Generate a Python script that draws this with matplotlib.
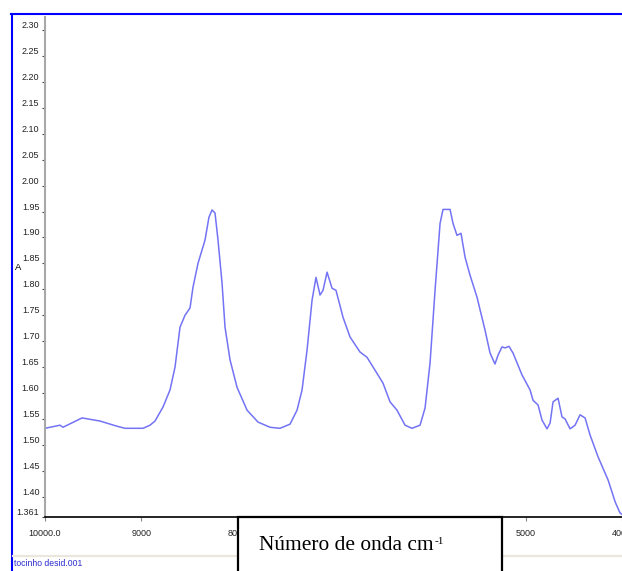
import matplotlib.pyplot as plt
from matplotlib.patches import Rectangle
from matplotlib.lines import Line2D
from matplotlib.text import Annotation

SANS = ["Liberation Sans Narrow", "Liberation Sans", "DejaVu Sans"]

# NIR spectrum (wavenumber in cm-1, absorbance)
wavenumber = [10000, 9844, 9813, 9615, 9428, 9251, 9168, 8981, 8908, 8856,
              8773, 8700, 8648, 8596, 8544, 8492, 8461, 8409, 8336, 8295,
              8263, 8232, 8201, 8159, 8128, 8076, 8003, 7899, 7785, 7660,
              7556, 7452, 7379, 7327, 7275, 7223, 7182, 7140, 7109, 7067,
              7015, 6974, 6901, 6828, 6724, 6652, 6548, 6485, 6412, 6340,
              6256, 6184, 6100, 6048, 5996, 5944, 5892, 5861, 5788, 5757,
              5716, 5674, 5632, 5580, 5508, 5424, 5372, 5321, 5289, 5248,
              5217, 5175, 5133, 5040, 4956, 4925, 4873, 4832, 4780, 4748,
              4717, 4665, 4624, 4592, 4540, 4488, 4436, 4384, 4332, 4249,
              4144, 4071, 4021, 4000]
absorbance = [1.532, 1.538, 1.534, 1.552, 1.546, 1.536, 1.532, 1.532, 1.538, 1.546,
              1.573, 1.606, 1.650, 1.727, 1.750, 1.764, 1.804, 1.850, 1.895, 1.939,
              1.953, 1.947, 1.895, 1.812, 1.727, 1.664, 1.611, 1.567, 1.544, 1.534,
              1.532, 1.540, 1.567, 1.606, 1.683, 1.779, 1.823, 1.789, 1.798, 1.833,
              1.802, 1.798, 1.746, 1.708, 1.679, 1.669, 1.638, 1.619, 1.583, 1.567,
              1.538, 1.532, 1.538, 1.571, 1.658, 1.798, 1.927, 1.954, 1.954, 1.927,
              1.904, 1.908, 1.862, 1.827, 1.785, 1.721, 1.677, 1.656, 1.673, 1.689,
              1.687, 1.690, 1.677, 1.635, 1.606, 1.586, 1.577, 1.548, 1.531, 1.542,
              1.583, 1.590, 1.554, 1.550, 1.531, 1.538, 1.558, 1.552, 1.519, 1.477,
              1.432, 1.390, 1.369, 1.366]

yticks = [1.361, 1.40, 1.45, 1.50, 1.55, 1.60, 1.65, 1.70, 1.75, 1.80, 1.85,
          1.90, 1.95, 2.00, 2.05, 2.10, 2.15, 2.20, 2.25, 2.30]
ytick_labels = ["1.361"] + ["%.2f" % v for v in yticks[1:]]
xticks = [10000, 9000, 8000, 7000, 6000, 5000, 4000]
# 7000 and 6000 sit behind the title box
xtick_labels = ["10000.0", "9000", "8000", "", "", "5000", "4000"]

W, H = 622, 571
fig = plt.figure(figsize=(W / 100, H / 100), dpi=100)
ax = fig.add_axes([45 / W, (H - 517) / H, (W - 45) / W, 500 / H])

ax.plot(wavenumber, absorbance, color="#7373f5", lw=1.1)
ax.set_xlim(10000, 4000)
ax.set_ylim(1.361, 2.325)

ax.set_yticks(yticks)
ax.set_yticklabels(ytick_labels, family=SANS, fontsize=6.5, color="#222222")
ax.set_xticks(xticks)
ax.set_xticklabels(xtick_labels, family=SANS, fontsize=6.5, color="#222222")
for t in ax.get_yticklabels():
    t.set_verticalalignment("bottom")
ax.tick_params(axis="y", length=2, width=0.8, pad=2, color="#444444")
ax.tick_params(axis="x", length=3, width=0.8, pad=6, color="#888888")

for side in ("top", "right"):
    ax.spines[side].set_visible(False)
ax.spines["left"].set_color("#a8a8a8")
ax.spines["left"].set_linewidth(1.5)
ax.spines["bottom"].set_color("black")
ax.spines["bottom"].set_linewidth(1.2)

fig.text(15 / W, 1 - 268 / H, "A", family=SANS, fontsize=6.8, va="center", ha="left")

# window frame and status bar
fig.add_artist(Line2D([11.5 / W, 11.5 / W], [0, 1 - 14 / H], color="#0000ff", lw=1.5))
fig.add_artist(Line2D([11 / W, 1], [1 - 14 / H, 1 - 14 / H], color="#0000ff", lw=1.5))
fig.add_artist(Line2D([13 / W, 1], [1 - 556 / H, 1 - 556 / H], color="#ebe7dc", lw=1.6))
fig.text(14 / W, 1 - 564 / H, "tocinho desid.001", family=SANS, fontsize=6.2,
         color="#2a2ad0", va="center", ha="left")

# axis title box
fig.add_artist(Rectangle((238 / W, -0.02), (502 - 238) / W, (H - 517) / H + 0.02,
                         facecolor="white", edgecolor="black", lw=1.6, zorder=10))
title = fig.text(259 / W, 1 - 550 / H, "Número de onda cm", family="Liberation Serif",
                 fontsize=15.4, va="baseline", ha="left", zorder=11)
fig.add_artist(Annotation("-1", xy=(1, 0), xycoords=title, xytext=(0.5, 7.9),
                          textcoords="offset points", family="Liberation Serif",
                          fontsize=8, va="baseline", ha="left", zorder=11))

fig.savefig("out.png", dpi=100)
